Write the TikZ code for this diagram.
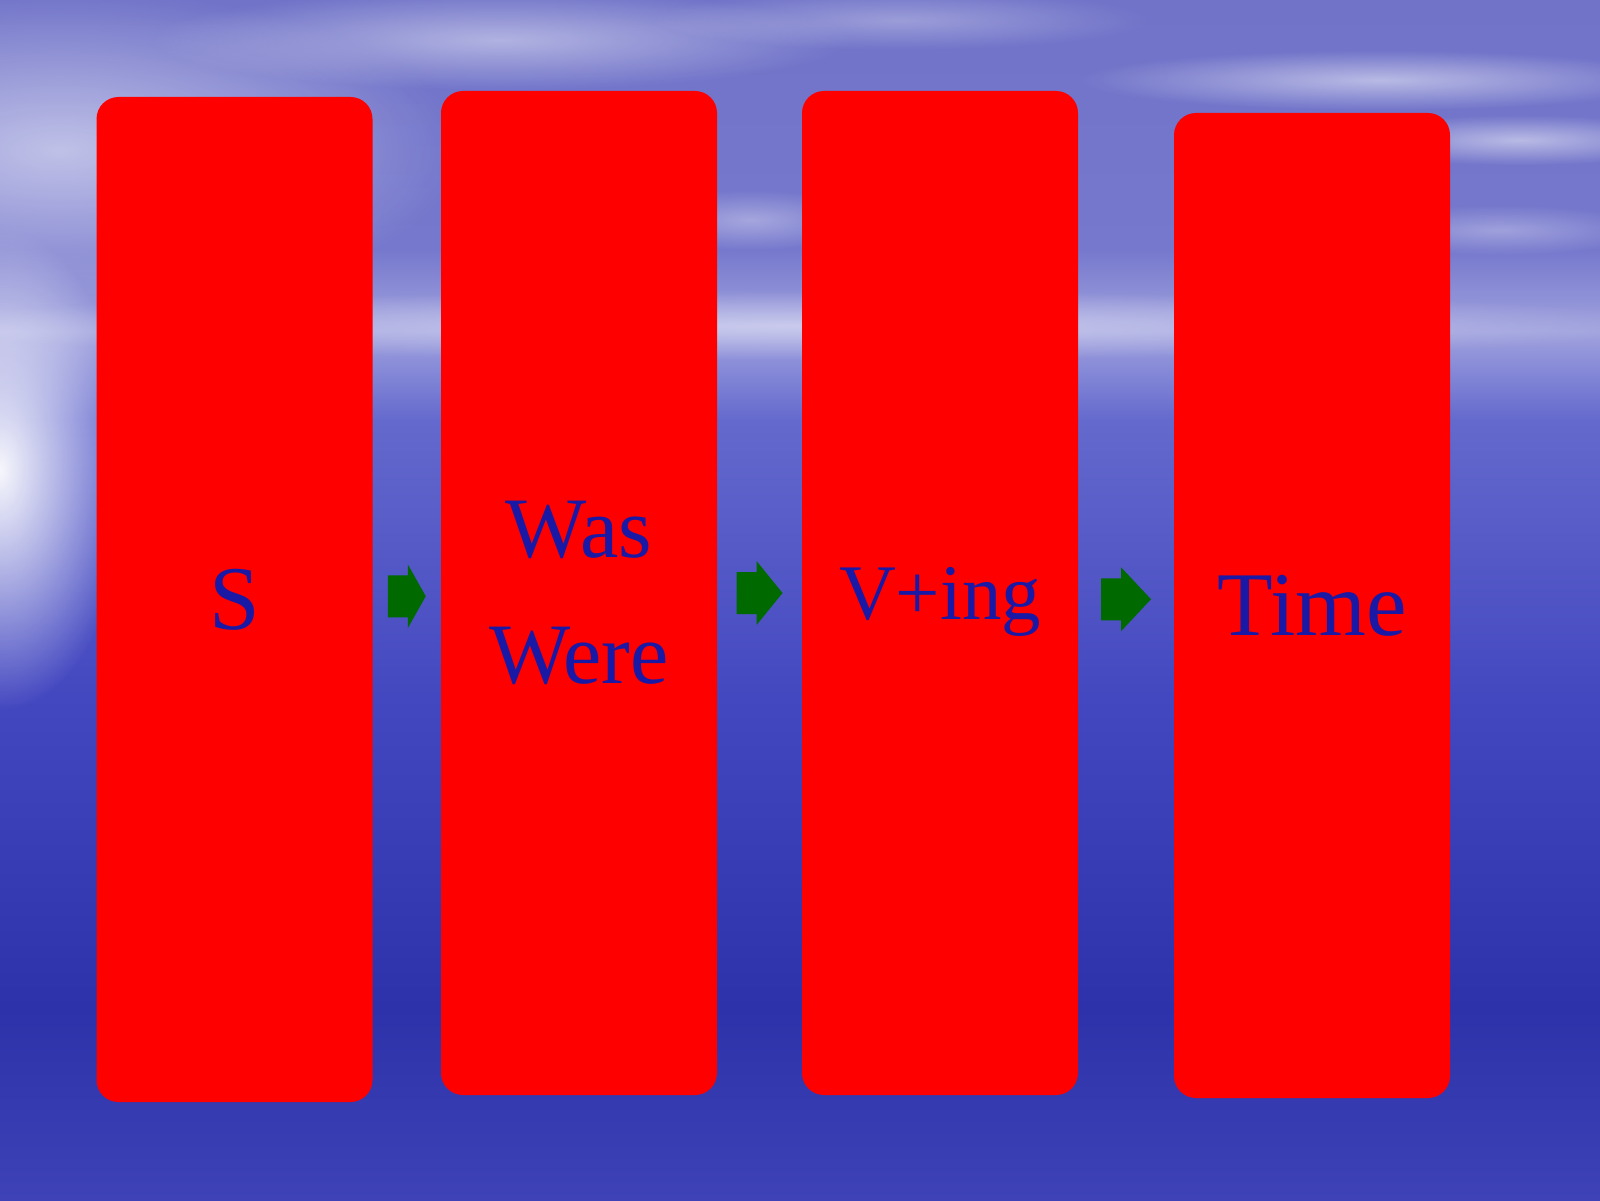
\documentclass[tikz,border=0pt]{standalone}
\usepackage{fontspec}
\setmainfont{Liberation Serif}
\usetikzlibrary{calc}
\usetikzlibrary{positioning}
\usetikzlibrary{fadings}

\definecolor{panelred}{RGB}{255,0,0}
\definecolor{textblue}{RGB}{25,25,165}
\definecolor{arrowgreen}{RGB}{0,105,0}
\definecolor{seabottom}{RGB}{62,66,182}
\definecolor{seadeep}{RGB}{45,50,170}
\definecolor{seamid}{RGB}{68,72,192}
\definecolor{seatop}{RGB}{100,105,205}
\definecolor{horizon}{RGB}{160,162,222}
\definecolor{skylow}{RGB}{118,120,205}
\definecolor{skytop}{RGB}{112,115,200}

% sky and sea, bottom of the picture at 25bp, top at 75bp
\pgfdeclareverticalshading{oceansky}{100bp}{%
  color(0bp)=(seabottom); color(25bp)=(seabottom); color(33bp)=(seadeep);
  color(46bp)=(seamid); color(57.5bp)=(seatop); color(61.2bp)=(horizon);
  color(64.6bp)=(skylow); color(75bp)=(skytop); color(100bp)=(skytop)}

\tikzfading[name=glowfade, inner color=transparent!0, outer color=transparent!100]

\tikzset{
  panel/.style={fill=panelred, rounded corners=0.22cm, minimum width=2.76cm,
    inner sep=0pt, text=textblue, align=center},
  streak/.style={white, opacity=#1, path fading=glowfade},
  streak/.default=0.35
}

\begin{document}
\begin{tikzpicture}
		\useasboundingbox (0,0) rectangle (16,12);
		
		\shade[shading=oceansky] (0,0) rectangle (16,12);	% background
		
		% light and clouds
		\fill[streak=0.95] (0,7.3) ellipse (1.3 and 2.4);		% glow on the left
		\fill[streak=0.55] (0.6,10.5) ellipse (4.0 and 1.6);
		\fill[streak=0.45] (5.0,11.6) ellipse (3.5 and 0.5);
		\fill[streak=0.5] (13.8,11.2) ellipse (3.0 and 0.3);
		\fill[streak=0.5] (15.2,10.6) ellipse (1.8 and 0.25);
		\fill[streak=0.45] (8.0,8.75) ellipse (9.0 and 0.35);	% horizon
		\fill[streak=0.3] (9.0,11.8) ellipse (2.5 and 0.3);
		\fill[streak=0.3] (15.0,9.7) ellipse (1.5 and 0.25);
		\fill[streak=0.35] (7.5,9.8) ellipse (1.2 and 0.3);
		
		% panels
		\node[panel, minimum height=10.05cm, font=\fontsize{25.9}{31}\selectfont] (subj) at (2.345,6.005) {S};
		\node[panel, minimum height=10.04cm, font=\fontsize{24.5}{36.1}\selectfont] (aux) at (5.79,6.07) {Was\\Were};
		\node[panel, minimum height=10.04cm, font=\fontsize{22.4}{28}\selectfont, text depth=0pt] (verb) at (9.40,6.07) {V+ing};
		\node[panel, minimum height=9.85cm, font=\fontsize{25.9}{31}\selectfont] (time) at (13.12,5.945) {Time};
		
		% green arrows between the panels
		\foreach \from/\to/\half in {subj/aux/0.19, aux/verb/0.23, verb/time/0.25} {
			\coordinate (arr-\from) at ($(\from.east)!0.5!(\to.west)$);
			\fill[arrowgreen, shift={(arr-\from)}] (-\half,0.21) -- (0.2-\half,0.21) -- (0.2-\half,0.32)
				-- (\half,0) -- (0.2-\half,-0.32) -- (0.2-\half,-0.21) -- (-\half,-0.21) -- cycle;
		}
\end{tikzpicture}
\end{document}
